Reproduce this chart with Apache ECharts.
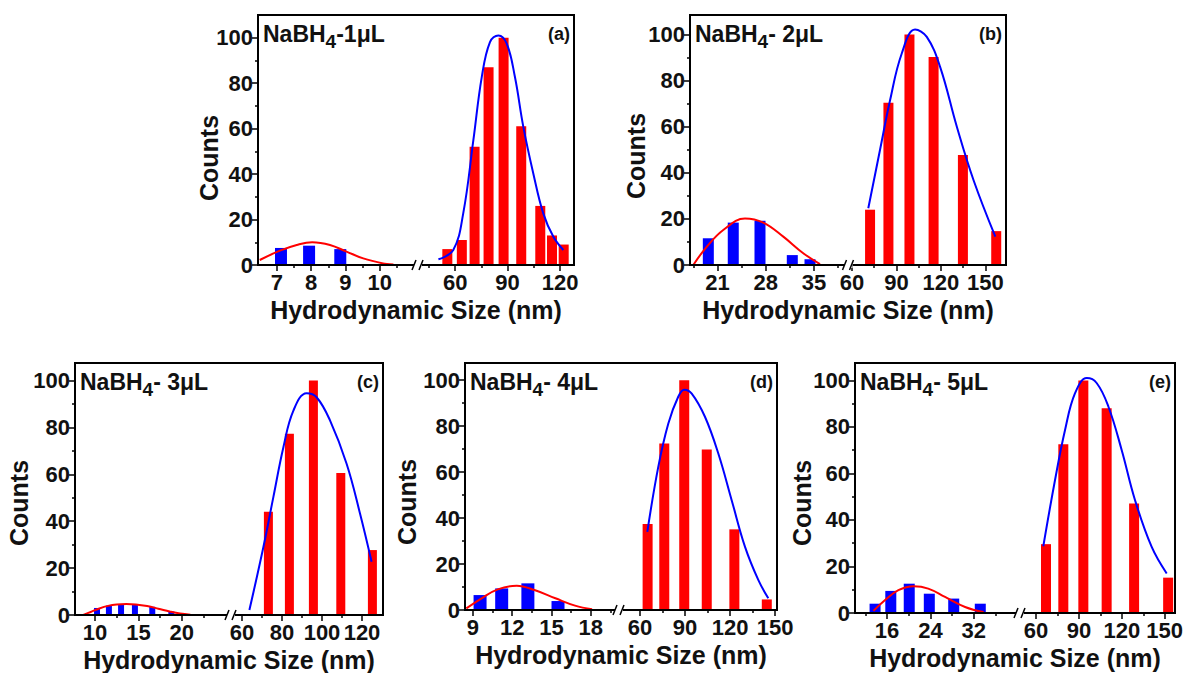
<!DOCTYPE html>
<html>
<head>
<meta charset="utf-8">
<script src="https://cdn.jsdelivr.net/npm/echarts@6/dist/echarts.min.js"></script>
<style>
  html, body { margin: 0; padding: 0; background: #fff; }
  #chart { width: 1185px; height: 673px; }
</style>
</head>
<body>
<div id="chart"></div>
<script>
// ---- shared labels ----
const countTicks = [0, 20, 40, 60, 80, 100];
const countMinorTicks = [10, 30, 50, 70, 90];
const doseLabels = ['-1μL', '- 2μL', '- 3μL', '- 4μL', '- 5μL'];
const panelTags = ['(a)', '(b)', '(c)', '(d)', '(e)'];
const sizeAxisName = 'Hydrodynamic Size (nm)';
const countAxisName = 'Counts';

// ---- (a) NaBH4 1 μL ----
const aSmallSize = [7.12, 7.94, 8.85];
const aSmallCount = [7.5, 8.5, 7];
const aSmallFitSize = [6.5, 7.09, 7.58, 8.03, 8.55, 9.03, 9.52, 10.1, 10.4];
const aSmallFitCount = [2.2, 6.3, 8.8, 10.0, 8.8, 5.9, 2.9, 0.7, 0.2];
const aLargeSize = [55.5, 63.8, 71.1, 79.1, 87.7, 97.8, 108.7, 115.4, 122.1];
const aLargeCount = [7, 11, 52, 87, 100, 61, 26, 13, 9];
const aLargeFitSize = [50.4, 58.9, 64.6, 70.4, 75.2, 79.9, 84.7, 89.5, 94.2, 99, 104.7, 110.4, 116.2, 121.9];
const aLargeFitCount = [2.5, 6.6, 22.7, 54.9, 82.7, 98.1, 101, 97.4, 82.7, 60.8, 40.3, 22.7, 12.4, 6.6];
const aSmallTicks = [7, 8, 9, 10];
const aSmallMinor = [7.5, 8.5, 9.5, 10.5];
const aLargeTicks = [60, 90, 120];
const aLargeMinor = [45, 75, 105];

// ---- (b) NaBH4 2 μL ----
const bSmallSize = [19.66, 23.28, 27.16, 31.85, 34.42];
const bSmallCount = [11.6, 18.4, 19.2, 4.3, 2.5];
const bSmallFitSize = [17.48, 19.42, 21.83, 24.98, 27.64, 30.54, 33.44, 35.87];
const bSmallFitCount = [0, 7.9, 15.2, 20.2, 18.4, 12.3, 5.1, 0.4];
const bLargeSize = [72.2, 84.6, 98.8, 115.1, 134.9, 157.4];
const bLargeCount = [24, 70.4, 100, 90.3, 47.7, 14.7];
const bLargeFitSize = [71.0, 78.9, 85.7, 93.6, 102.6, 110.5, 119.5, 130.8, 142.1, 156.8];
const bLargeFitCount = [24.6, 49.9, 71.5, 91.8, 102.2, 99, 86, 60, 36.8, 12.3];
const bSmallTicks = [21, 28, 35];
const bSmallMinor = [17.5, 24.5, 31.5, 38.5];
const bLargeTicks = [60, 90, 120, 150];
const bLargeMinor = [75, 105, 135];

// ---- (c) NaBH4 3 μL ----
const cSmallSize = [10.23, 11.6, 13.0, 14.6, 16.6, 18.8];
const cSmallCount = [3, 4, 4.3, 4.3, 3.5, 1.5];
const cSmallFitSize = [8.65, 9.5, 10.5, 11.5, 12.5, 13.6, 14.7, 16, 17.3, 18.6, 19.8, 21];
const cSmallFitCount = [0, 1.3, 2.8, 3.9, 4.5, 4.7, 4.5, 3.8, 2.7, 1.5, 0.6, 0.1];
const cLargeSize = [73.2, 83.7, 95.7, 109.4, 125.2];
const cLargeCount = [44, 77.3, 100, 60.6, 27.7];
const cLargeFitSize = [63.7, 70.7, 75.7, 80.7, 85.7, 92.3, 97.3, 104, 112.3, 119, 124.8];
const cLargeFitCount = [2.1, 29, 50.4, 71.6, 87.2, 94.6, 92.9, 83, 64.5, 43.3, 22.7];
const cSmallTicks = [10, 15, 20];
const cSmallMinor = [12.5, 17.5, 22.5];
const cLargeTicks = [60, 80, 100, 120];
const cLargeMinor = [70, 90, 110];

// ---- (d) NaBH4 4 μL ----
const dSmallSize = [9.55, 11.2, 13.2, 15.5];
const dSmallCount = [6.5, 9.4, 11.6, 3.9];
const dSmallFitSize = [8.5, 9.67, 10.9, 12.35, 13.7, 15.3, 16.8, 18.1];
const dSmallFitCount = [0.7, 5.1, 9, 10.6, 8.7, 5.1, 1.9, 0.3];
const dLargeSize = [65.1, 76.2, 89.5, 104.5, 122.9, 144.5];
const dLargeCount = [37.4, 72.5, 100, 69.9, 35.1, 4.6];
const dLargeFitSize = [64.9, 72.2, 78.9, 85.5, 89.5, 94.5, 103.3, 112.2, 121.1, 130, 138.9, 145.5];
const dLargeFitCount = [34, 62.3, 81.2, 92.8, 95.9, 94.2, 84.1, 68.1, 47.8, 27.5, 13, 5.1];
const dSmallTicks = [9, 12, 15, 18];
const dSmallMinor = [10.5, 13.5, 16.5, 19.5];
const dLargeTicks = [60, 90, 120, 150];
const dLargeMinor = [75, 105, 135];

// ---- (e) NaBH4 5 μL ----
const eSmallSize = [13.8, 16.7, 20.1, 23.8, 28.3, 33.2];
const eSmallCount = [4, 9.5, 12.6, 8.3, 6.2, 4];
const eSmallFitSize = [13.5, 15.6, 18.1, 20.9, 23.6, 26.7, 30.4, 33.8];
const eSmallFitCount = [0.9, 5.5, 9.8, 11.5, 10.5, 6.9, 2.6, 0.4];
const eLargeSize = [67, 79.1, 93.1, 109.4, 128.6, 152.4];
const eLargeCount = [29.6, 72.6, 100, 88, 47.1, 15.2];
const eLargeFitSize = [65.1, 73.3, 80.3, 87.3, 95.5, 102.4, 110.6, 119.9, 129.2, 140.9, 151.4];
const eLargeFitCount = [28.7, 57.2, 78.7, 94.5, 101, 98.9, 88.8, 70.1, 48.6, 28.4, 17];
const eSmallTicks = [16, 24, 32];
const eSmallMinor = [12, 20, 28, 36];
const eLargeTicks = [60, 90, 120, 150];
const eLargeMinor = [75, 105, 135];

const panels = [
  { small: [aSmallSize, aSmallCount, aSmallFitSize, aSmallFitCount, aSmallTicks, aSmallMinor],
    large: [aLargeSize, aLargeCount, aLargeFitSize, aLargeFitCount, aLargeTicks, aLargeMinor] },
  { small: [bSmallSize, bSmallCount, bSmallFitSize, bSmallFitCount, bSmallTicks, bSmallMinor],
    large: [bLargeSize, bLargeCount, bLargeFitSize, bLargeFitCount, bLargeTicks, bLargeMinor] },
  { small: [cSmallSize, cSmallCount, cSmallFitSize, cSmallFitCount, cSmallTicks, cSmallMinor],
    large: [cLargeSize, cLargeCount, cLargeFitSize, cLargeFitCount, cLargeTicks, cLargeMinor] },
  { small: [dSmallSize, dSmallCount, dSmallFitSize, dSmallFitCount, dSmallTicks, dSmallMinor],
    large: [dLargeSize, dLargeCount, dLargeFitSize, dLargeFitCount, dLargeTicks, dLargeMinor] },
  { small: [eSmallSize, eSmallCount, eSmallFitSize, eSmallFitCount, eSmallTicks, eSmallMinor],
    large: [eLargeSize, eLargeCount, eLargeFitSize, eLargeFitCount, eLargeTicks, eLargeMinor] }
];

// ---- layout: frame box [left, top, right, bottom], axis break span, axis domains ----
const layout = [
  { frame: [258, 15, 574, 265],   split: [414, 422],   yMax: 110,   smallDom: [6.45, 11],   largeDom: [41, 128],    counts: [209, 158], blueW: 12, redW: 10 },
  { frame: [690, 15, 1006, 265],  split: [845, 852],   yMax: 108.5, smallDom: [17, 39.5],   largeDom: [60, 164],    counts: [636, 156], blueW: 11, redW: 10 },
  { frame: [75, 363, 383, 615],   split: [226, 236],   yMax: 107.5, smallDom: [7.69, 25.1], largeDom: [57, 130.5],  counts: [19, 503],  blueW: 6,  redW: 9 },
  { frame: [465, 363, 777, 610],  split: [615, 623],   yMax: 107.5, smallDom: [8.4, 19.85], largeDom: [48.7, 151.3], counts: [407, 502], blueW: 13, redW: 10 },
  { frame: [855, 363, 1175, 613], split: [1015, 1025], yMax: 107.5, smallDom: [10.1, 39.6], largeDom: [52.3, 157.2], counts: [802, 503], blueW: 11, redW: 10 }
];

const FONT = '"Liberation Sans", Arial, Helvetica, sans-serif';
const INK = '#111';
const RED = '#ff0000';
const BLUE = '#0000ff';

const grids = [], xAxes = [], yAxes = [], series = [], graphics = [];

const zip = (xs, ys) => xs.map((x, k) => [x, ys[k]]);
const tickLabelStyle = { fontFamily: FONT, fontWeight: 'bold', fontSize: 22, color: INK };

function addGrid(left, top, width, height, extra) {
  grids.push(Object.assign({ left, top, width, height, containLabel: false, outerBoundsMode: 'none', show: false }, extra || {}));
  return grids.length - 1;
}

// one x segment: major ticks with labels + a second axis carrying the short minor ticks
function addSizeAxes(g, dom, ticks, minor) {
  xAxes.push({
    gridIndex: g, type: 'value', position: 'bottom', min: dom[0], max: dom[1],
    axisLine: { show: false }, splitLine: { show: false },
    axisTick: { show: true, inside: false, length: 6, customValues: ticks, lineStyle: { color: '#000', width: 1.5 } },
    axisLabel: Object.assign({ show: true, margin: 6, customValues: ticks }, tickLabelStyle)
  });
  const main = xAxes.length - 1;
  xAxes.push({
    gridIndex: g, type: 'value', position: 'bottom', min: dom[0], max: dom[1],
    axisLine: { show: false }, splitLine: { show: false }, axisLabel: { show: false },
    axisTick: { show: true, inside: false, length: 3, customValues: minor, lineStyle: { color: '#000', width: 1.5 } }
  });
  return main;
}

function addCountAxes(g, yMax, visible) {
  if (!visible) {
    yAxes.push({ gridIndex: g, type: 'value', min: 0, max: yMax, show: false });
    return yAxes.length - 1;
  }
  yAxes.push({
    gridIndex: g, type: 'value', position: 'left', min: 0, max: yMax,
    axisLine: { show: false }, splitLine: { show: false },
    axisTick: { show: true, inside: false, length: 6, customValues: countTicks, lineStyle: { color: '#000', width: 1.5 } },
    axisLabel: Object.assign({ show: true, margin: 5, customValues: countTicks }, tickLabelStyle)
  });
  const main = yAxes.length - 1;
  yAxes.push({
    gridIndex: g, type: 'value', position: 'left', min: 0, max: yMax,
    axisLine: { show: false }, splitLine: { show: false }, axisLabel: { show: false },
    axisTick: { show: true, inside: false, length: 3, customValues: countMinorTicks, lineStyle: { color: '#000', width: 1.5 } }
  });
  return main;
}

panels.forEach((p, i) => {
  const L = layout[i];
  const [fl, ft, fr, fb] = L.frame;
  const h = fb - ft;

  // outer frame, drawn above the marks
  const gf = addGrid(fl, ft, fr - fl, h, { show: true, borderColor: '#000', borderWidth: 2, backgroundColor: 'transparent', z: 5 });
  xAxes.push({
    gridIndex: gf, type: 'value', min: 0, max: 1,
    name: sizeAxisName, nameLocation: 'middle', nameGap: 32,
    nameTextStyle: { fontFamily: FONT, fontWeight: 'bold', fontSize: 25, color: INK },
    axisLine: { show: false }, axisTick: { show: false }, axisLabel: { show: false }, splitLine: { show: false }
  });
  yAxes.push({ gridIndex: gf, type: 'value', min: 0, max: 1, show: false });

  // small-size segment
  const gs = addGrid(fl, ft, L.split[0] - fl, h);
  const xs = addSizeAxes(gs, L.smallDom, p.small[4], p.small[5]);
  const ys = addCountAxes(gs, L.yMax, true);
  series.push({
    type: 'bar', xAxisIndex: xs, yAxisIndex: ys, barWidth: L.blueW,
    data: zip(p.small[0], p.small[1]), itemStyle: { color: BLUE }, z: 2, animation: false
  });
  series.push({
    type: 'line', xAxisIndex: xs, yAxisIndex: ys, smooth: 0.4, symbol: 'none',
    data: zip(p.small[2], p.small[3]), lineStyle: { color: RED, width: 2 }, z: 3, animation: false
  });

  // large-size segment
  const gl = addGrid(L.split[1], ft, fr - L.split[1], h);
  const xl = addSizeAxes(gl, L.largeDom, p.large[4], p.large[5]);
  const yl = addCountAxes(gl, L.yMax, false);
  series.push({
    type: 'bar', xAxisIndex: xl, yAxisIndex: yl, barWidth: L.redW,
    data: zip(p.large[0], p.large[1]), itemStyle: { color: RED }, z: 2, animation: false
  });
  series.push({
    type: 'line', xAxisIndex: xl, yAxisIndex: yl, smooth: 0.4, symbol: 'none',
    data: zip(p.large[2], p.large[3]), lineStyle: { color: BLUE, width: 2 }, z: 3, animation: false
  });

  // sample label with subscript
  graphics.push({
    type: 'text', x: fl + 5, y: ft + 19, z: 100,
    style: {
      text: '{m|NaBH}{s|4}{m|' + doseLabels[i] + '}',
      align: 'left', verticalAlign: 'middle',
      rich: {
        m: { fontFamily: FONT, fontWeight: 'bold', fontSize: 23, fill: INK, color: INK },
        s: { fontFamily: FONT, fontWeight: 'bold', fontSize: 19, fill: INK, color: INK, padding: [14, 0, 0, 0] }
      }
    }
  });
  // panel tag
  graphics.push({
    type: 'text', x: fr - 4, y: ft + 19, z: 100,
    style: { text: panelTags[i], align: 'right', verticalAlign: 'middle', fontFamily: FONT, fontWeight: 'bold', fontSize: 18, fill: INK }
  });
  // y axis title
  graphics.push({
    type: 'text', x: L.counts[0], y: L.counts[1], rotation: Math.PI / 2, z: 100,
    style: { text: countAxisName, align: 'center', verticalAlign: 'middle', fontFamily: FONT, fontWeight: 'bold', fontSize: 25, fill: INK }
  });
  // axis break mark "//"
  const bx = (L.split[0] + L.split[1]) / 2;
  graphics.push({ type: 'rect', z: 100, shape: { x: bx - 4, y: fb - 3, width: 8, height: 6 }, style: { fill: '#fff' } });
  graphics.push({ type: 'line', z: 101, shape: { x1: bx - 6, y1: fb + 5, x2: bx - 2, y2: fb - 5 }, style: { stroke: '#000', lineWidth: 1.5 } });
  graphics.push({ type: 'line', z: 101, shape: { x1: bx + 1, y1: fb + 5, x2: bx + 5, y2: fb - 5 }, style: { stroke: '#000', lineWidth: 1.5 } });
});

const chart = echarts.init(document.getElementById('chart'), null, { renderer: 'svg' });
chart.setOption({
  backgroundColor: '#fff',
  animation: false,
  grid: grids,
  xAxis: xAxes,
  yAxis: yAxes,
  series: series,
  graphic: { elements: graphics }
});
</script>
</body>
</html>
